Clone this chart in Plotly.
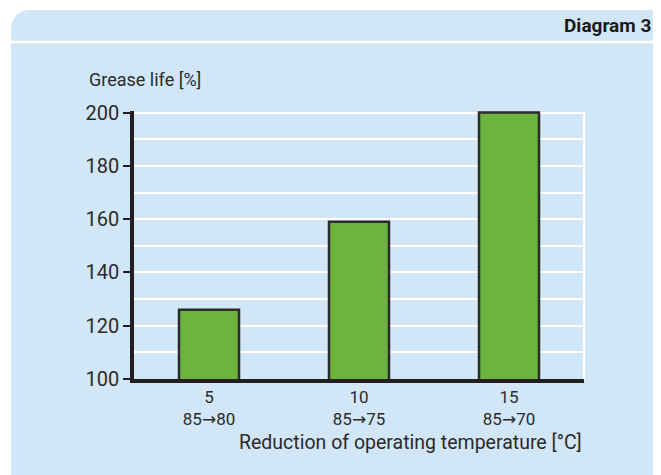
import plotly.graph_objects as go

# Data
arrow = '<span style="font-family:DejaVu Sans">→</span>'
categories = ["5<br>85" + arrow + "80", "10<br>85" + arrow + "75", "15<br>85" + arrow + "70"]
grease_life = [126, 159, 200]
y_ticks = [100, 120, 140, 160, 180, 200]

OFF = 8                      # page body margin
W, H = 661 - OFF, 475 - OFF  # figure size
L, R, T, B = 134, 584, 111, 379  # plot area in page pixels


def px(x):
    return (x - L) / (R - L)


def py(y):
    return (B - y) / (B - T)


fig = go.Figure()
fig.add_trace(go.Bar(
    x=list(range(len(categories))),
    y=grease_life,
    marker=dict(color="#6db33f", line=dict(color="#2b2b2b", width=2.5)),
    hoverinfo="skip",
))

font = "Roboto, Open Sans, sans-serif"
txt = "#2b2b2b"
panel = "#d1e6f6"

shapes = []
path = (f"M {px(11)},{py(490)} L {px(11)},{py(31)} "
        f"Q {px(11)},{py(10)} {px(32)},{py(10)} "
        f"L {px(670)},{py(10)} L {px(670)},{py(490)} Z")
shapes.append(dict(type="path", path=path, xref="paper", yref="paper",
                   fillcolor=panel, line=dict(width=0), layer="below"))
shapes.append(dict(type="line", xref="paper", yref="paper",
                   x0=px(11), x1=px(670), y0=py(42), y1=py(42),
                   line=dict(color="white", width=2.5), layer="below"))
shapes.append(dict(type="line", xref="paper", yref="paper",
                   x0=1, x1=1, y0=0, y1=1,
                   line=dict(color="white", width=2), layer="below"))

annotations = [
    dict(text="Diagram 3", x=px(653), y=py(26), xref="paper", yref="paper",
         xanchor="right", yanchor="middle", showarrow=False,
         font=dict(family=font, size=19, color="#1a1a1a", weight="bold")),
    dict(text="Grease life [%]", x=px(87), y=py(80), xref="paper", yref="paper",
         xanchor="left", yanchor="middle", showarrow=False,
         font=dict(family=font, size=18, color=txt)),
    dict(text="Reduction of operating temperature [°C]", x=1, y=py(442),
         xref="paper", yref="paper", xanchor="right", yanchor="middle",
         showarrow=False, font=dict(family=font, size=19.5, color=txt)),
]

fig.update_layout(
    width=W, height=H,
    margin=dict(l=L - OFF, r=W - (R - OFF), t=T - OFF, b=H - (B - OFF), pad=0),
    paper_bgcolor="white",
    plot_bgcolor="rgba(0,0,0,0)",
    showlegend=False,
    bargap=0.6,
    shapes=shapes,
    annotations=annotations,
    font=dict(family=font, color=txt),
)
fig.update_xaxes(
    range=[-0.5, 2.5],
    tickmode="array",
    tickvals=list(range(len(categories))),
    ticktext=categories,
    ticks="",
    showgrid=False,
    showline=True, linecolor="#231f20", linewidth=3.5,
    tickfont=dict(family=font, size=17, color=txt),
    zeroline=False,
    fixedrange=True,
)
fig.update_yaxes(
    range=[100, 200.6],
    tickmode="array",
    tickvals=y_ticks,
    ticks="outside", ticklen=7, tickwidth=2, tickcolor="#231f20",
    showline=True, linecolor="#231f20", linewidth=3.5,
    showgrid=True, gridcolor="white", gridwidth=1.5,
    minor=dict(dtick=10, showgrid=True, gridcolor="white", gridwidth=1.5, ticks=""),
    tickfont=dict(family=font, size=20, color=txt),
    zeroline=False,
    fixedrange=True,
)

fig.write_html("out.html")
